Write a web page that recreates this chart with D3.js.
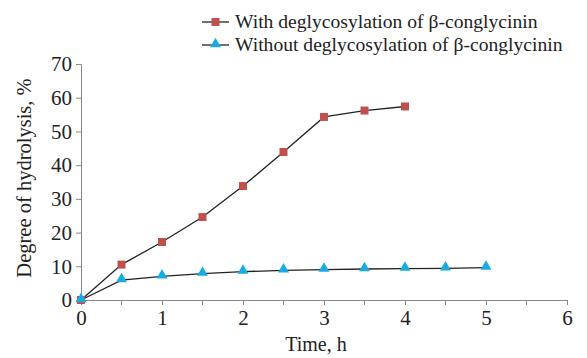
<!DOCTYPE html>
<html lang="en">
<head>
    <meta charset="UTF-8">
    <title>Degree of hydrolysis</title>
    <script src="https://d3js.org/d3.v7.min.js"></script>
    <style>
        body { margin: 0; background: #fff; }
        text { font-family: "Liberation Serif", "Times New Roman", serif; fill: #222; }
    </style>
</head>
<body>
    <svg width="587" height="358"></svg>
    <script>
        // data
        var timeWith = [0, 0.5, 1, 1.5, 2, 2.5, 3, 3.5, 4];
        var dhWith = [0, 10.5, 17.2, 24.6, 33.8, 43.9, 54.3, 56.2, 57.4];
        var timeWithout = [0, 0.5, 1, 1.5, 2, 2.5, 3, 3.5, 4, 4.5, 5];
        var dhWithout = [0, 5.9, 7.0, 7.8, 8.4, 8.8, 9.0, 9.2, 9.3, 9.4, 9.6];
        var xTicks = [0, 1, 2, 3, 4, 5, 6];
        var xMinor = [0.5, 1.5, 2.5, 3.5, 4.5, 5.5];
        var yTicks = [0, 10, 20, 30, 40, 50, 60, 70];
        var seriesNames = ["With deglycosylation of \u03b2-conglycinin", "Without deglycosylation of \u03b2-conglycinin"];

        var margin = {top: 64, right: 20, bottom: 58, left: 81},
            width = 567 - margin.left,
            height = 300 - margin.top;

        var svg = d3.select("svg");
        var g = svg.append("g").attr("transform", "translate(" + margin.left + "," + margin.top + ")");

        var x = d3.scaleLinear().domain([0, 6]).range([0, width]);
        var y = d3.scaleLinear().domain([0, 70]).range([height, 0]);

        // axes
        var xAxis = g.append("g")
            .attr("transform", "translate(0," + height + ")")
            .call(d3.axisBottom(x).tickValues(xTicks).tickSize(5).tickPadding(5).tickFormat(d3.format("d")));
        xAxis.selectAll(".minor").data(xMinor).enter().append("line")
            .attr("class", "minor")
            .attr("x1", d => x(d)).attr("x2", d => x(d))
            .attr("y1", 0).attr("y2", 5)
            .attr("stroke", "#888");

        var yAxis = g.append("g")
            .call(d3.axisLeft(y).tickValues(yTicks).tickSize(5).tickPadding(4).tickFormat(d3.format("d")));

        [xAxis, yAxis].forEach(function(a) {
            a.select(".domain").attr("stroke", "#888");
            a.selectAll(".tick line").attr("stroke", "#888");
            a.selectAll(".tick text")
                .style("font-family", '"Liberation Serif", serif')
                .style("font-size", "21px")
                .attr("fill", "#222");
        });

        // axis titles
        svg.append("text")
            .attr("x", margin.left + x(3) - 8)
            .attr("y", 351)
            .attr("text-anchor", "middle")
            .style("font-size", "20px")
            .text("Time, h");

        svg.append("text")
            .attr("transform", "translate(31," + (margin.top + y(35) - 4) + ") rotate(-90)")
            .attr("text-anchor", "middle")
            .style("font-size", "20.5px")
            .text("Degree of hydrolysis, %");

        var line = d3.line().x(d => x(d[0])).y(d => y(d[1]));
        var withPts = timeWith.map((t, i) => [t, dhWith[i]]);
        var withoutPts = timeWithout.map((t, i) => [t, dhWithout[i]]);

        var red = "#c0504d", blue = "#1aabe3";
        var square = d3.symbol().type(d3.symbolSquare).size(64);
        var tri = d3.symbol().type(d3.symbolTriangle).size(52);

        g.append("path").datum(withoutPts).attr("d", line)
            .attr("fill", "none").attr("stroke", "#222").attr("stroke-width", 1.3);
        g.append("path").datum(withPts).attr("d", line)
            .attr("fill", "none").attr("stroke", "#222").attr("stroke-width", 1.3);

        g.selectAll(".sq").data(withPts).enter().append("path")
            .attr("class", "sq")
            .attr("d", square)
            .attr("transform", d => "translate(" + x(d[0]) + "," + y(d[1]) + ")")
            .attr("fill", red);

        g.selectAll(".tri").data(withoutPts).enter().append("path")
            .attr("class", "tri")
            .attr("d", tri)
            .attr("transform", d => "translate(" + x(d[0]) + "," + (y(d[1]) - 1) + ")")
            .attr("fill", blue);

        // legend
        var legend = svg.append("g").attr("transform", "translate(202,0)");
        var shapes = [square, tri], colors = [red, blue];
        seriesNames.forEach(function(name, i) {
            var ly = 22 + i * 23;
            legend.append("line")
                .attr("x1", 0).attr("x2", 27).attr("y1", ly).attr("y2", ly)
                .attr("stroke", "#222").attr("stroke-width", 1.3);
            legend.append("path")
                .attr("d", shapes[i])
                .attr("transform", "translate(13.5," + (ly - (i ? 1 : 0)) + ")")
                .attr("fill", colors[i]);
            legend.append("text")
                .attr("x", 33).attr("y", ly + 6)
                .style("font-size", "19.6px")
                .text(name);
        });
    </script>
</body>
</html>
